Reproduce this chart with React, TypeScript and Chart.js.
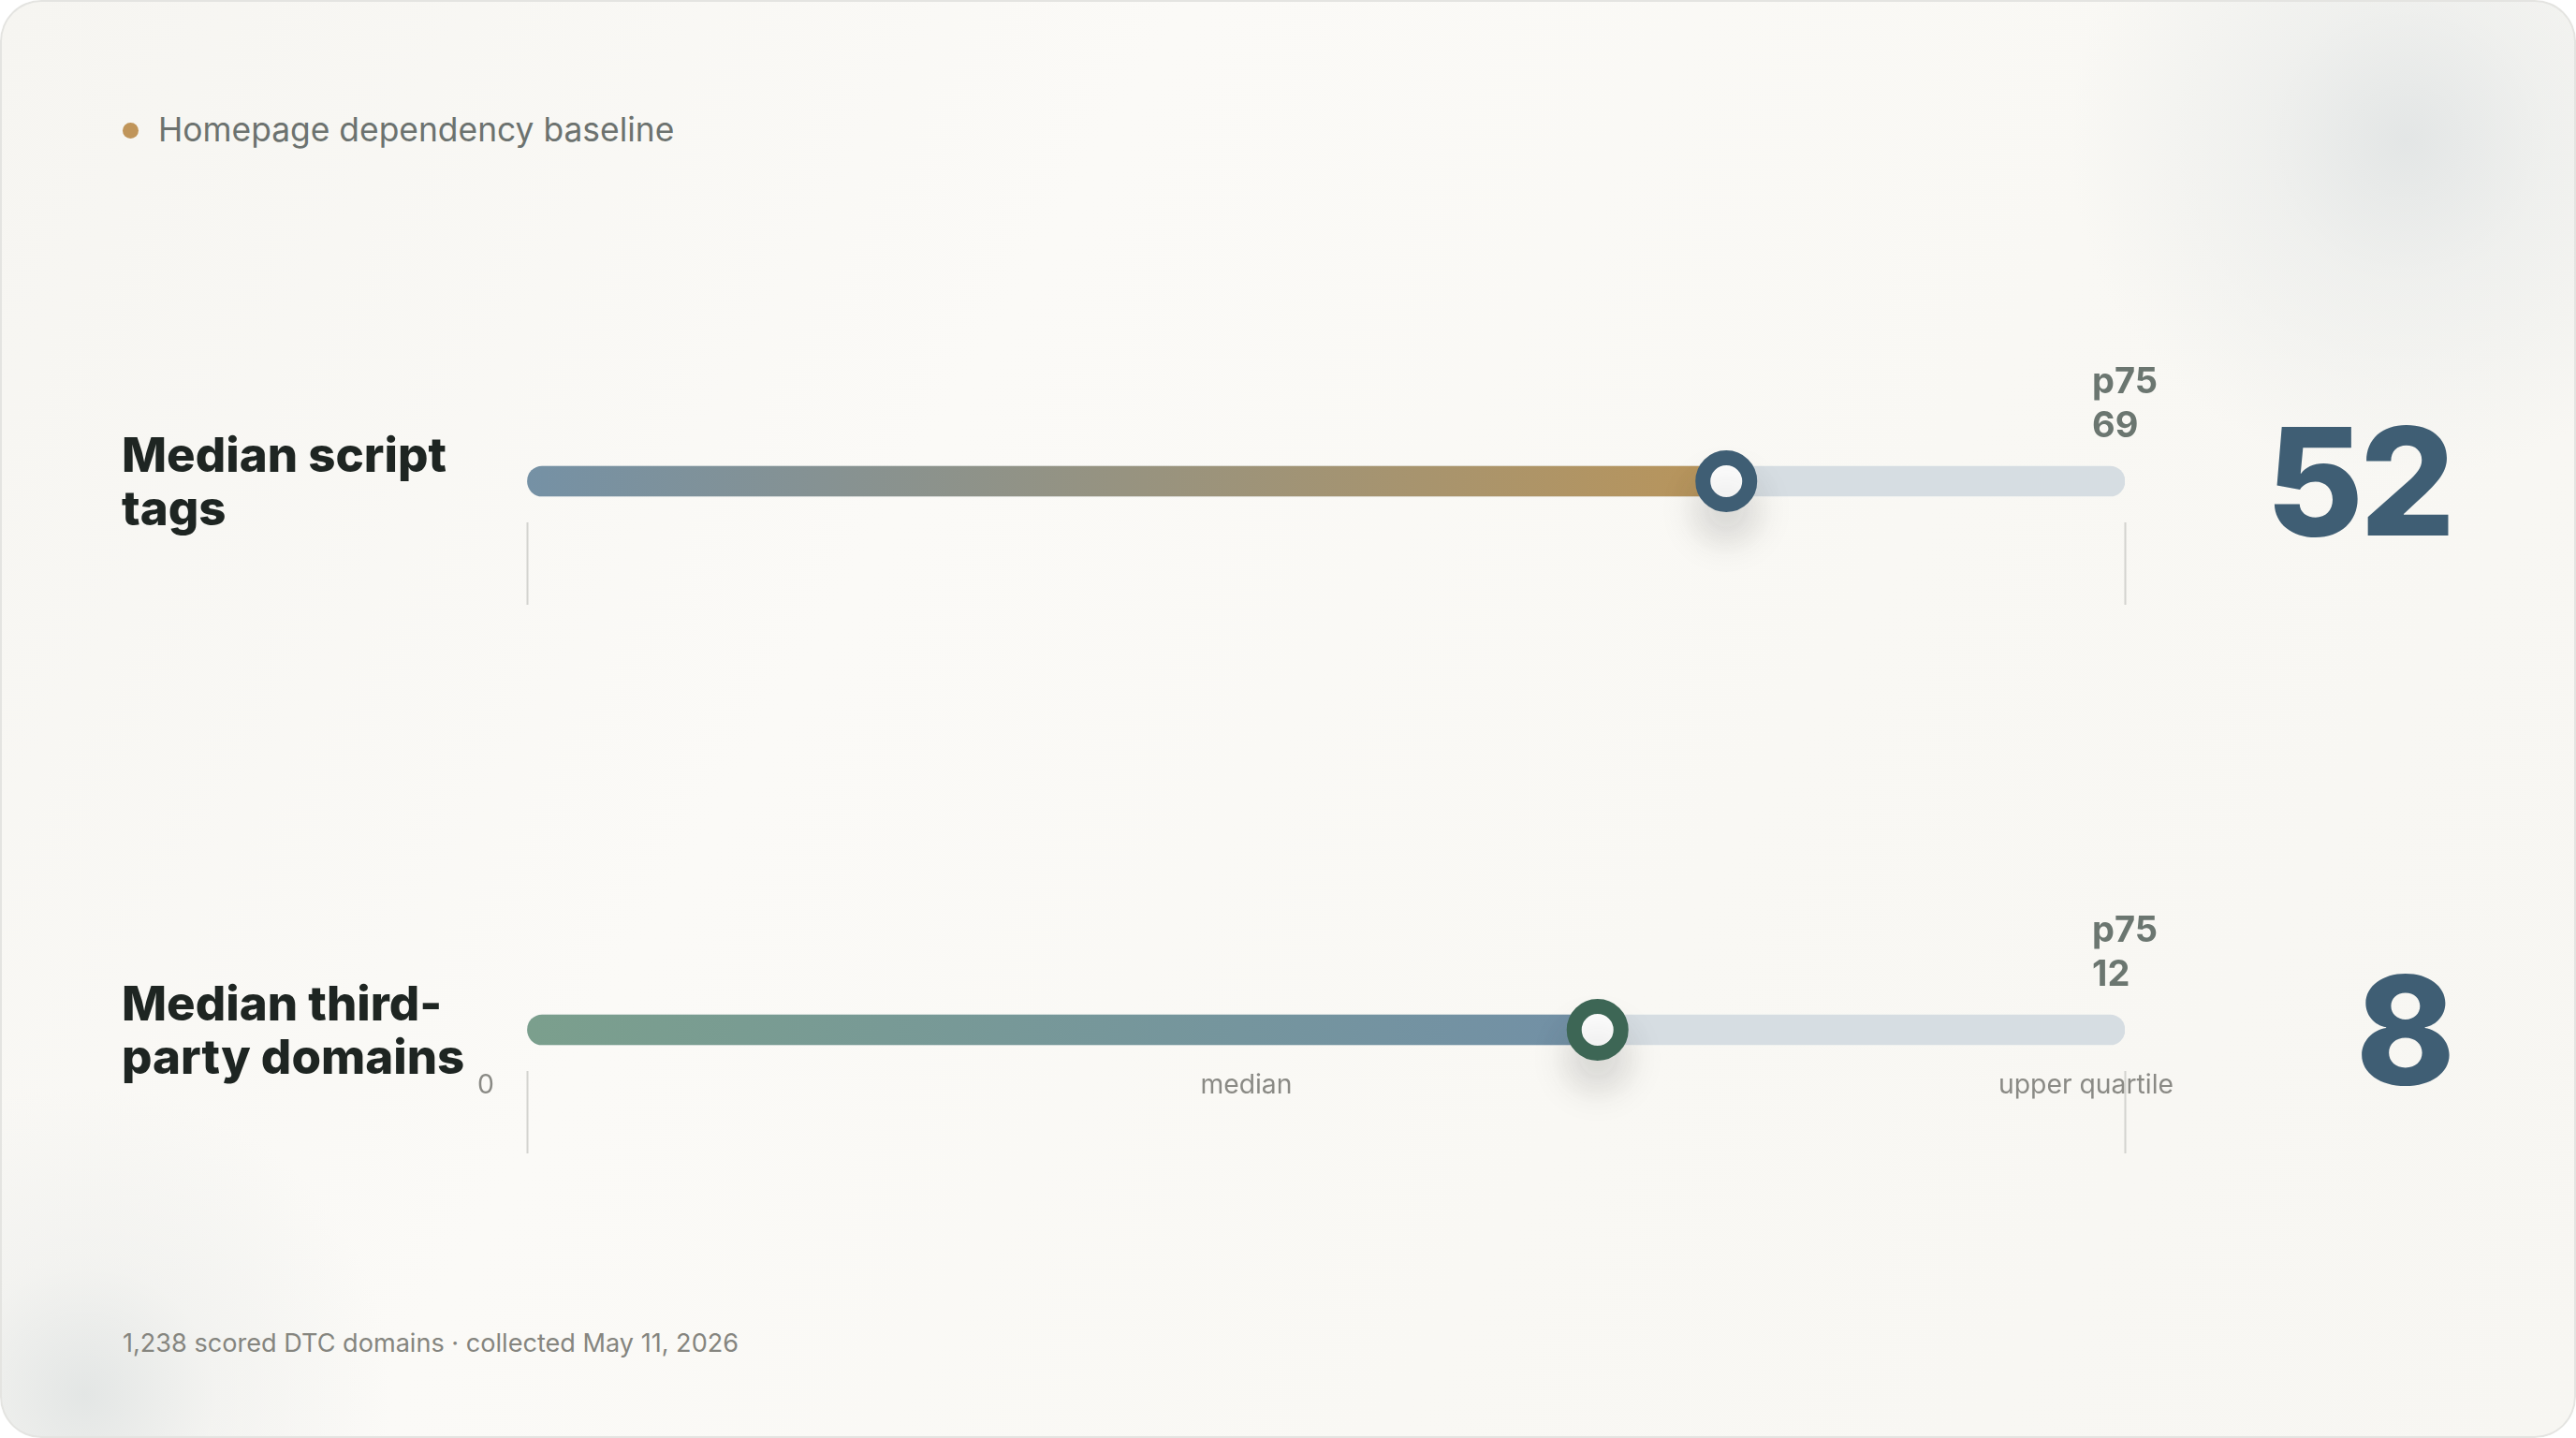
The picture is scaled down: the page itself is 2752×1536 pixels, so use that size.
import React, { useEffect, useRef } from "react";
import { Chart, registerables } from "chart.js";

Chart.register(...registerables);

// ---------- data ----------
const legendLabel = "Homepage dependency baseline";
const rowLabels = ["Median script tags", "Median third-party domains"];
const medians = [52, 8];
// upper-quartile scale ends as read from the track (labels show them rounded)
const p75s = [69.28, 11.94];
const p75Caption = "p75";
const axisLabels = ["0", "median", "upper quartile"];
const footnote = "1,238 scored DTC domains · collected May 11, 2026";

// ---------- styles ----------
const FONT = "Inter, 'Noto Sans', 'DejaVu Sans', sans-serif";
const ROW_STYLE = [
  { from: "#7591a5", to: "#b9955b", ring: "#3f5e74", trackY: 514 },
  { from: "#7b9f8d", to: "#7290a6", ring: "#3d6655", trackY: 1100 },
];
const PAD = { left: 40, right: 60, top: 100, bottom: 40 };
const TRACK_LEFT = 562;
const TRACK_RIGHT = 2270;
const CANVAS_W = TRACK_RIGHT - TRACK_LEFT + PAD.left + PAD.right;
const CANVAS_H = PAD.top + 88 + 88 + PAD.bottom;

const shadowPlugin = {
  id: "markerShadow",
  beforeDatasetDraw(chart: any, args: any) {
    if (args.index === 0) {
      const ctx = chart.ctx;
      ctx.save();
      ctx.shadowColor = "rgba(60,60,60,0.16)";
      ctx.shadowBlur = 40;
      ctx.shadowOffsetY = 30;
    }
  },
  afterDatasetDraw(chart: any, args: any) {
    if (args.index === 0) chart.ctx.restore();
  },
};

function makeP75Plugin(p75: number) {
  return {
    id: "p75Label",
    afterDraw(chart: any) {
      const ctx = chart.ctx;
      const x = chart.scales.x.getPixelForValue(p75);
      const y = chart.scales.y.getPixelForValue(0);
      ctx.save();
      ctx.font = `700 38px ${FONT}`;
      ctx.fillStyle = "#6b7670";
      ctx.textBaseline = "alphabetic";
      ctx.textAlign = "left";
      const l1 = p75Caption;
      const l2 = String(Math.round(p75));
      const w = Math.max(ctx.measureText(l1).width, ctx.measureText(l2).width);
      const left = x - w / 2;
      ctx.fillText(l1, left, y - 94);
      ctx.fillText(l2, left, y - 47);
      ctx.restore();
    },
  };
}

function RowChart({ i }: { i: number }) {
  const ref = useRef<HTMLCanvasElement | null>(null);
  useEffect(() => {
    const canvas = ref.current;
    if (!canvas) return;
    const median = medians[i];
    const p75 = p75s[i];
    const st = ROW_STYLE[i];
    const label = rowLabels[i];
    const chart = new Chart(canvas, {
      type: "bar",
      data: {
        labels: [label],
        datasets: [
          {
            type: "line",
            indexAxis: "y",
            data: [{ x: median, y: label }],
            showLine: false,
            pointRadius: 25,
            pointHoverRadius: 25,
            pointBorderWidth: 16,
            pointHoverBorderWidth: 16,
            pointBackgroundColor: "#ffffff",
            pointBorderColor: st.ring,
            order: 0,
            clip: false,
          } as any,
          {
            type: "bar",
            data: [median],
            backgroundColor: (c: any) => {
              const ch = c.chart;
              if (!ch.chartArea) return st.from;
              const xs = ch.scales.x;
              const g = ch.ctx.createLinearGradient(
                xs.getPixelForValue(0),
                0,
                xs.getPixelForValue(median),
                0
              );
              g.addColorStop(0, st.from);
              g.addColorStop(1, st.to);
              return g;
            },
            barThickness: 32,
            borderRadius: 16,
            borderSkipped: false,
            grouped: false,
            order: 1,
          } as any,
          {
            type: "bar",
            data: [p75],
            backgroundColor: "#d6dde2",
            barThickness: 32,
            borderRadius: 16,
            borderSkipped: false,
            grouped: false,
            order: 2,
          } as any,
        ],
      },
      options: {
        indexAxis: "y",
        responsive: false,
        animation: false,
        events: [],
        layout: { padding: PAD },
        plugins: { legend: { display: false }, tooltip: { enabled: false } },
        scales: {
          x: {
            type: "linear",
            position: "bottom",
            min: 0,
            max: p75,
            afterBuildTicks: (axis: any) => {
              axis.ticks = [{ value: 0 }, { value: p75 }];
            },
            ticks: { display: false },
            grid: {
              drawOnChartArea: false,
              drawTicks: true,
              tickLength: 88,
              tickColor: "#d3d3cf",
              tickWidth: 2,
            },
            border: { display: false },
          },
          y: { type: "category", display: false },
        },
      } as any,
      plugins: [shadowPlugin, makeP75Plugin(p75)],
    });
    return () => chart.destroy();
  }, [i]);

  const st = ROW_STYLE[i];
  return (
    <>
      <div
        style={{
          position: "absolute",
          left: 130,
          top: st.trackY - 57,
          width: 400,
          fontFamily: FONT,
          fontWeight: 800,
          fontSize: 51,
          lineHeight: "57px",
          color: "#1e2522",
        }}
      >
        {rowLabels[i]}
      </div>
      <canvas
        ref={ref}
        width={CANVAS_W}
        height={CANVAS_H}
        style={{
          position: "absolute",
          left: TRACK_LEFT - PAD.left,
          top: st.trackY - PAD.top - 44,
          width: CANVAS_W,
          height: CANVAS_H,
        }}
      />
      <div
        style={{
          position: "absolute",
          right: 133,
          top: st.trackY - 80,
          fontFamily: FONT,
          fontWeight: 800,
          fontSize: 160,
          lineHeight: "160px",
          letterSpacing: -4,
          color: "#3f5e74",
          textAlign: "right",
          whiteSpace: "nowrap",
        }}
      >
        {medians[i]}
      </div>
    </>
  );
}

export default function App() {
  return (
    <div
      style={{
        position: "fixed",
        left: 0,
        top: 0,
        width: 2752,
        height: 1536,
        background: "#ffffff",
      }}
    >
      <div
        style={{
          position: "absolute",
          left: 0,
          top: 0,
          width: 2752,
          height: 1536,
          borderRadius: 44,
          overflow: "hidden",
          boxShadow: "inset 0 0 0 2px #e4e4e1",
          background:
            "radial-gradient(circle at 2570px 150px, rgba(226,229,229,0.95) 0px, rgba(233,235,234,0.6) 150px, rgba(248,247,243,0) 360px)," +
            "radial-gradient(circle at 90px 1490px, rgba(226,229,228,0.95) 0px, rgba(236,237,235,0.5) 140px, rgba(248,247,243,0) 330px)," +
            "linear-gradient(120deg, #f6f5f1 0%, #fbfaf7 35%, #f9f8f4 65%, #f7f6f2 100%)",
        }}
      >
        <div
          style={{
            position: "absolute",
            left: 131,
            top: 131,
            width: 17,
            height: 17,
            borderRadius: "50%",
            background: "#c0955a",
          }}
        />
        <div
          style={{
            position: "absolute",
            left: 169,
            top: 121,
            fontFamily: FONT,
            fontSize: 35.4,
            lineHeight: "35px",
            color: "#6c726f",
            whiteSpace: "nowrap",
          }}
        >
          {legendLabel}
        </div>

        <RowChart i={0} />
        <RowChart i={1} />

        <div
          style={{
            position: "absolute",
            left: 510,
            top: 1144,
            width: 1812,
            display: "flex",
            justifyContent: "space-between",
            fontFamily: FONT,
            fontSize: 28.3,
            lineHeight: "28px",
            color: "#8a8a85",
            whiteSpace: "nowrap",
          }}
        >
          {axisLabels.map((t) => (
            <span key={t}>{t}</span>
          ))}
        </div>

        <div
          style={{
            position: "absolute",
            left: 131,
            top: 1421,
            fontFamily: FONT,
            fontSize: 27.1,
            lineHeight: "27px",
            color: "#85857f",
            whiteSpace: "nowrap",
          }}
        >
          {footnote}
        </div>
      </div>
    </div>
  );
}
